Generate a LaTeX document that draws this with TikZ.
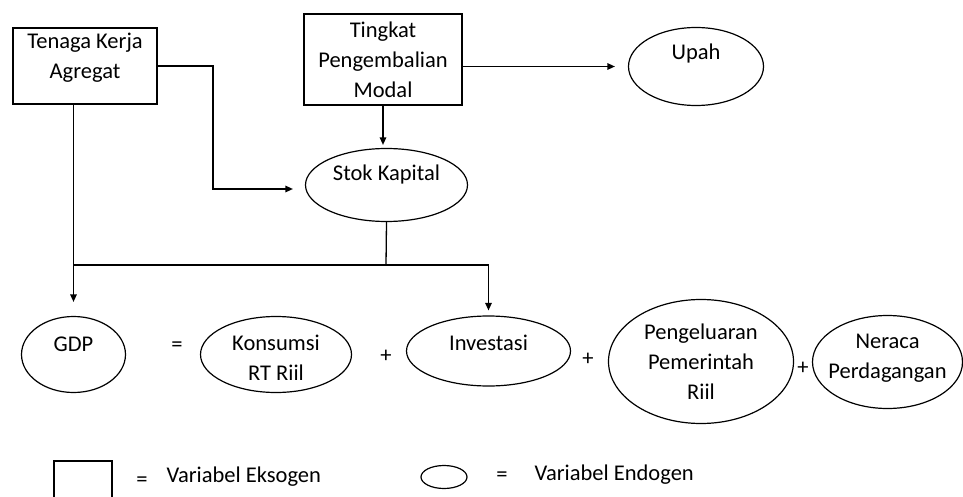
\documentclass[tikz,border=0pt]{standalone}
\usepackage{fontspec}
\setmainfont{Carlito}
\usetikzlibrary{arrows.meta,positioning,shapes.geometric}

\begin{document}
\begin{tikzpicture}[x=1pt,y=-1pt,
every node/.style={font=\fontsize{22.5}{30}\selectfont},
exo/.style={draw,rectangle,line width=2.4pt,inner sep=0pt,align=center},
endo/.style={draw,ellipse,line width=1.2pt,inner sep=0pt},
lbl/.style={align=center,inner sep=0pt},
arr/.style={-{Triangle[length=7.5pt,width=6.5pt]},line width=1.3pt},
conn/.style={line width=1.3pt}
]
\useasboundingbox (0,0) rectangle (963,497);
% variabel eksogen
\node[exo,minimum width=144pt,minimum height=76pt,label={[lbl,yshift=8pt]center:{Tenaga Kerja\\Agregat}}] (tenaga) at (85,66) {};
\node[exo,minimum width=158pt,minimum height=91pt] (tingkat) at (383,59.5) {Tingkat\\Pengembalian\\Modal};
% variabel endogen
\node[endo,minimum width=135pt,minimum height=78pt,label={[lbl,yshift=13pt]center:Upah}] (upah) at (696,66.5) {};
\node[endo,minimum width=162pt,minimum height=73pt,label={[lbl,yshift=10pt]center:Stok Kapital}] (stok) at (386.5,185) {};
\node[endo,minimum width=104pt,minimum height=76pt,label={[lbl,yshift=10pt]center:GDP}] (gdp) at (73.5,354.5) {};
\node[endo,minimum width=151pt,minimum height=76pt,label={[lbl,yshift=-3pt]center:{Konsumsi\\RT Riil}}] (kons) at (276,354.5) {};
\node[endo,minimum width=164pt,minimum height=70pt,label={[lbl,yshift=8pt]center:Investasi}] (inv) at (488.5,351) {};
\node[endo,minimum width=185pt,minimum height=124pt,label={[lbl]center:{Pengeluaran\\Pemerintah\\Riil}}] (peng) at (701,361.5) {};
\node[endo,minimum width=150pt,minimum height=93pt,label={[lbl,yshift=4pt]center:{Neraca\\Perdagangan}}] (ner) at (887.5,362) {};
% tanda persamaan
\node (eqa) at (177,347) {=};
\node (plusa) at (386,356) {+};
\node (plusb) at (588,359) {+};
\node (plusc) at (803,368) {+};
% keterangan
\node[exo,minimum width=58pt,minimum height=40pt] (keyexo) at (83,481) {};
\node (keyeqa) at (142,482) {=};
\node[anchor=west] (keyexotxt) at (163,477) {Variabel Eksogen};
\node[endo,minimum width=46pt,minimum height=23pt] (keyendo) at (444,477) {};
\node (keyeqb) at (502,477) {=};
\node[anchor=west] (keyendotxt) at (531,475) {Variabel Endogen};
% hubungan
\coordinate (bend) at (213,189);
\coordinate (bus) at (386,265);
\draw[arr,shorten >=13pt] (tingkat.east |- upah.west) -- (upah.west);
\draw[arr,shorten >=3pt] (tingkat.south) -- (tingkat.south |- stok.north);
\draw[arr,shorten >=12pt] (tenaga.east) -| (bend) -- (stok.west |- bend);
\draw[conn] (stok.south) -- (bus);
\draw[conn] (bus -| gdp.north) -- (bus -| inv.north);
\draw[arr,shorten >=14pt] (tenaga.south -| gdp.north) -- (gdp.north);
\draw[arr,shorten >=5pt] (bus -| inv.north) -- (inv.north);
\end{tikzpicture}
\end{document}
